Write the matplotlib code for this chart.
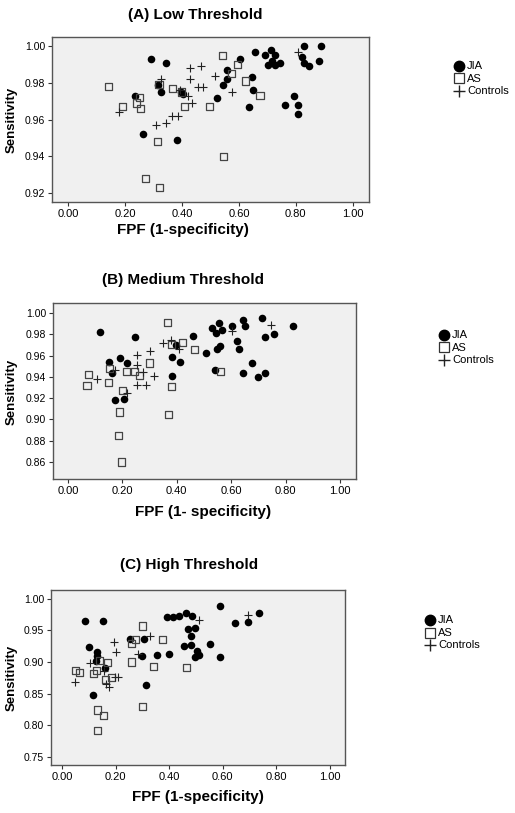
import matplotlib.pyplot as plt

plt.rcParams['font.family'] = ['Liberation Sans', 'DejaVu Sans']

# (A) Low threshold
a_jia_x = [0.292, 0.343, 0.316, 0.327, 0.236, 0.263, 0.384, 0.398, 0.405, 0.524, 0.544, 0.558,
           0.558, 0.602, 0.656, 0.645, 0.649, 0.635, 0.692, 0.703, 0.713, 0.716, 0.728, 0.728,
           0.745, 0.763, 0.795, 0.809, 0.807, 0.828, 0.821, 0.830, 0.846, 0.889, 0.880]
a_jia_y = [0.993, 0.991, 0.979, 0.975, 0.973, 0.952, 0.949, 0.975, 0.974, 0.972, 0.979, 0.987,
           0.982, 0.993, 0.997, 0.983, 0.976, 0.967, 0.995, 0.990, 0.998, 0.992, 0.995, 0.990,
           0.991, 0.968, 0.973, 0.968, 0.963, 1.000, 0.994, 0.991, 0.989, 1.000, 0.992]
a_as_x = [0.143, 0.192, 0.240, 0.249, 0.255, 0.319, 0.365, 0.398, 0.409, 0.498, 0.542, 0.575,
          0.594, 0.623, 0.674, 0.313, 0.547, 0.273, 0.322]
a_as_y = [0.978, 0.967, 0.969, 0.972, 0.966, 0.979, 0.977, 0.975, 0.967, 0.967, 0.995, 0.985,
          0.990, 0.981, 0.973, 0.948, 0.940, 0.928, 0.923]
a_ctl_x = [0.178, 0.310, 0.345, 0.363, 0.386, 0.327, 0.428, 0.465, 0.427, 0.422, 0.456, 0.474,
           0.436, 0.515, 0.577, 0.807, 0.392]
a_ctl_y = [0.964, 0.957, 0.958, 0.962, 0.962, 0.982, 0.988, 0.989, 0.982, 0.973, 0.978, 0.978,
           0.969, 0.984, 0.975, 0.997, 0.976]

# (B) Medium threshold
b_jia_x = [0.117, 0.150, 0.162, 0.174, 0.193, 0.205, 0.218, 0.248, 0.384, 0.384, 0.399, 0.411,
           0.460, 0.506, 0.531, 0.554, 0.546, 0.568, 0.602, 0.643, 0.650, 0.715, 0.757, 0.828,
           0.622, 0.629, 0.558, 0.548, 0.539, 0.675, 0.644, 0.697, 0.724, 0.724]
b_jia_y = [0.982, 0.954, 0.944, 0.918, 0.958, 0.919, 0.953, 0.977, 0.959, 0.941, 0.970, 0.954,
           0.978, 0.962, 0.986, 0.991, 0.981, 0.984, 0.988, 0.993, 0.988, 0.995, 0.980, 0.988,
           0.974, 0.966, 0.969, 0.966, 0.946, 0.953, 0.944, 0.940, 0.944, 0.977]
b_as_x = [0.070, 0.077, 0.150, 0.153, 0.188, 0.185, 0.196, 0.202, 0.216, 0.245, 0.264, 0.299,
          0.366, 0.368, 0.380, 0.380, 0.422, 0.466, 0.561]
b_as_y = [0.932, 0.942, 0.935, 0.948, 0.907, 0.885, 0.860, 0.927, 0.945, 0.945, 0.941, 0.953,
          0.991, 0.905, 0.970, 0.931, 0.972, 0.966, 0.945]
b_ctl_x = [0.107, 0.172, 0.217, 0.255, 0.255, 0.255, 0.288, 0.301, 0.317, 0.276, 0.348, 0.377,
           0.409, 0.604, 0.746]
b_ctl_y = [0.938, 0.946, 0.925, 0.961, 0.951, 0.932, 0.932, 0.964, 0.941, 0.945, 0.972, 0.975,
           0.966, 0.983, 0.989]

# (C) High threshold
c_jia_x = [0.087, 0.153, 0.099, 0.129, 0.129, 0.127, 0.160, 0.117, 0.252, 0.298, 0.307, 0.313,
           0.353, 0.391, 0.398, 0.414, 0.437, 0.462, 0.484, 0.457, 0.472, 0.498, 0.482, 0.481,
           0.498, 0.503, 0.513, 0.553, 0.588, 0.591, 0.646, 0.693, 0.735]
c_jia_y = [0.965, 0.965, 0.924, 0.916, 0.910, 0.901, 0.891, 0.848, 0.937, 0.910, 0.936, 0.863,
           0.911, 0.971, 0.912, 0.971, 0.973, 0.978, 0.973, 0.925, 0.953, 0.954, 0.941, 0.927,
           0.908, 0.918, 0.911, 0.929, 0.908, 0.988, 0.961, 0.964, 0.978]
c_as_x = [0.050, 0.065, 0.118, 0.130, 0.140, 0.133, 0.133, 0.155, 0.163, 0.171, 0.184, 0.258,
          0.261, 0.275, 0.301, 0.299, 0.343, 0.376, 0.463]
c_as_y = [0.887, 0.884, 0.882, 0.887, 0.902, 0.824, 0.791, 0.815, 0.872, 0.899, 0.876, 0.900,
          0.930, 0.935, 0.957, 0.829, 0.893, 0.936, 0.891]
c_ctl_x = [0.050, 0.106, 0.193, 0.201, 0.158, 0.174, 0.164, 0.209, 0.199, 0.282, 0.327, 0.511,
           0.694]
c_ctl_y = [0.869, 0.899, 0.931, 0.916, 0.885, 0.861, 0.866, 0.877, 0.877, 0.913, 0.941, 0.966,
           0.974]

x_ticks = [0.0, 0.2, 0.4, 0.6, 0.8, 1.0]

panels = [
    dict(title='(A) Low Threshold', xlabel='FPF (1-specificity)',
         jia=(a_jia_x, a_jia_y), as_=(a_as_x, a_as_y), ctl=(a_ctl_x, a_ctl_y),
         rect=[52/515, 1-202/813, 317/515, 165/813], xlim=(-0.057, 1.057), ylim=(0.915, 1.005),
         yticks=[0.92, 0.94, 0.96, 0.98, 1.00],
         title_xy=(195, 15), xl_xy=(183, 230), yl_xy=(12, 120), leg_xy=(459, 66)),
    dict(title='(B) Medium Threshold', xlabel='FPF (1- specificity)',
         jia=(b_jia_x, b_jia_y), as_=(b_as_x, b_as_y), ctl=(b_ctl_x, b_ctl_y),
         rect=[53/515, 1-479/813, 303/515, 176/813], xlim=(-0.055, 1.059), ylim=(0.844, 1.0094),
         yticks=[0.86, 0.88, 0.90, 0.92, 0.94, 0.96, 0.98, 1.00],
         title_xy=(183, 280), xl_xy=(203, 512), yl_xy=(12, 392), leg_xy=(444, 335)),
    dict(title='(C) High Threshold', xlabel='FPF (1-specificity)',
         jia=(c_jia_x, c_jia_y), as_=(c_as_x, c_as_y), ctl=(c_ctl_x, c_ctl_y),
         rect=[51/515, 1-765/813, 294/515, 175/813], xlim=(-0.041, 1.056), ylim=(0.737, 1.014),
         yticks=[0.75, 0.80, 0.85, 0.90, 0.95, 1.00],
         title_xy=(189, 565), xl_xy=(198, 797), yl_xy=(12, 678), leg_xy=(430, 620)),
]

W, H = 515, 813
fig = plt.figure(figsize=(W/100, H/100), dpi=100)

for p in panels:
    ax = fig.add_axes(p['rect'])
    ax.set_facecolor('#f0f0f0')
    for s in ax.spines.values():
        s.set_color('#555555')
        s.set_linewidth(1.0)
    ax.scatter(*p['jia'], s=30, c='black', marker='o', linewidths=0, zorder=3)
    ax.scatter(*p['as_'], s=26, facecolors='none', edgecolors='#444444', marker='s',
               linewidths=0.9, zorder=3)
    ax.scatter(*p['ctl'], s=26, c='#222222', marker='+', linewidths=0.8, zorder=3)
    ax.set_xlim(*p['xlim'])
    ax.set_ylim(*p['ylim'])
    ax.set_xticks(x_ticks)
    ax.set_xticklabels(['%.2f' % v for v in x_ticks])
    ax.set_yticks(p['yticks'])
    ax.set_yticklabels(['%.2f' % v for v in p['yticks']])
    ax.tick_params(length=3, width=0.8, color='#333333', pad=2)
    ax.tick_params(axis='x', labelsize=8)
    ax.tick_params(axis='y', labelsize=7.5)

    fig.text(p['title_xy'][0]/W, 1-p['title_xy'][1]/H, p['title'], ha='center', va='center',
             fontsize=11, fontweight='bold')
    fig.text(p['xl_xy'][0]/W, 1-p['xl_xy'][1]/H, p['xlabel'], ha='center', va='center',
             fontsize=11, fontweight='bold')
    fig.text(p['yl_xy'][0]/W, 1-p['yl_xy'][1]/H, 'Sensitivity', ha='center', va='center',
             fontsize=9.5, fontweight='bold', rotation=90)

    # legend drawn on figure coordinates
    lx, ly = p['leg_xy']
    labels = ['JIA', 'AS', 'Controls']
    for i, lab in enumerate(labels):
        yy = 1 - (ly + i*12.5)/H
        xx = lx/W
        if i == 0:
            fig.lines.append(plt.Line2D([xx], [yy], marker='o', markersize=7.5, color='black',
                                        linestyle='none', transform=fig.transFigure))
        elif i == 1:
            fig.lines.append(plt.Line2D([xx], [yy], marker='s', markersize=7, markerfacecolor='none',
                                        markeredgecolor='#333333', markeredgewidth=0.9,
                                        linestyle='none', transform=fig.transFigure))
        else:
            fig.lines.append(plt.Line2D([xx], [yy], marker='+', markersize=8, color='#222222',
                                        markeredgewidth=1.0, linestyle='none',
                                        transform=fig.transFigure))
        fig.text((lx + 8)/W, yy, lab, ha='left', va='center', fontsize=8)

fig.savefig('out.png', dpi=100)
